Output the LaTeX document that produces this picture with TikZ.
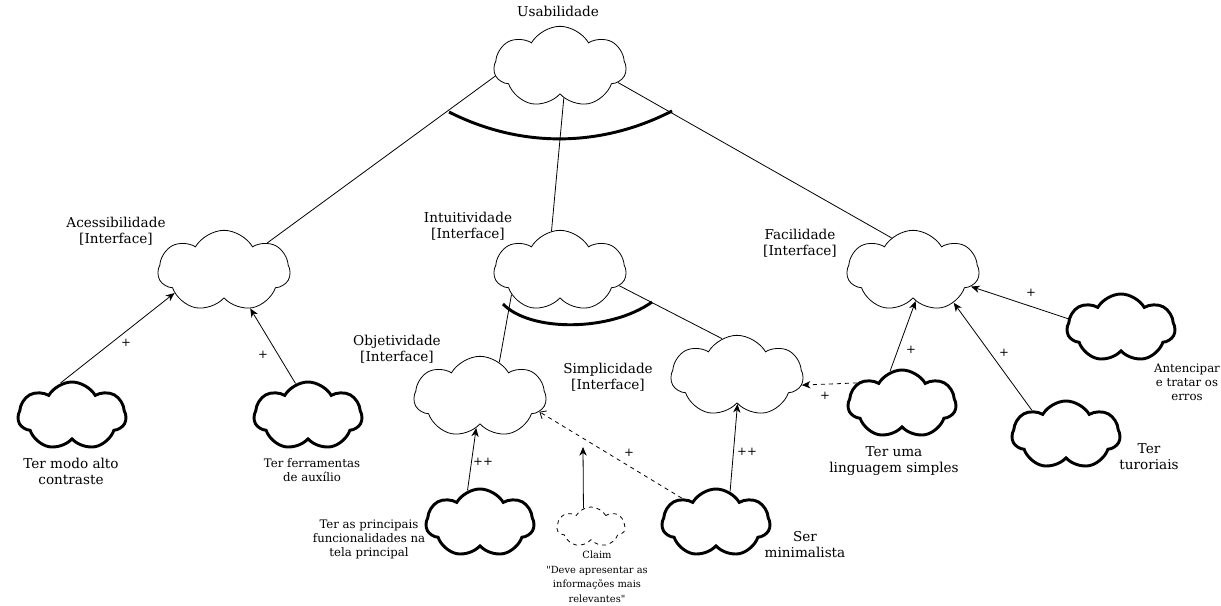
\documentclass[tikz,border=0pt]{standalone}
\usepackage{fontspec}
\setmainfont{DejaVu Serif}
\usetikzlibrary{shapes.symbols, arrows.meta}

\newcommand{\goalfont}{\fontsize{10.2}{12}\selectfont}
\newcommand{\opfont}{\fontsize{8.8}{10.5}\selectfont}
\newcommand{\claimfont}{\fontsize{7.4}{10.9}\selectfont}

\begin{document}
\begin{tikzpicture}[x=0.75pt, y=-0.75pt]
	\tikzstyle{softgoal} = [cloud, cloud puffs=7, cloud puff arc=120, aspect=1.6, 
	draw=black, line width=0.6pt, minimum width=99pt, minimum height=61pt, inner sep=0pt]
	\tikzstyle{operation} = [softgoal, line width=2.2pt, minimum width=81pt, 
	minimum height=51pt]
	\tikzstyle{claim} = [softgoal, dashed, line width=0.6pt, minimum width=51pt, 
	minimum height=30pt]
	\tikzstyle{txt} = [align=center, inner sep=0pt, font=\goalfont]
	\tikzstyle{small} = [align=center, inner sep=0pt, font=\opfont]
	\tikzstyle{sign} = [inner sep=0pt, font=\opfont]
	\tikzstyle{arrow} = [line width=0.6pt,->,>={Stealth[length=6.5pt, width=5.5pt, inset=2pt]}]
	\tikzstyle{andarc} = [line width=2.2pt]
	\useasboundingbox (0,0) rectangle (1221,606);
	% softgoals
	\node (usabilidade) [softgoal] at (560,67) {};
	\node (acessibilidade) [softgoal] at (224,271) {};
	\node (intuitividade) [softgoal] at (560,271) {};
	\node (facilidade) [softgoal] at (913,271) {};
	\node (objetividade) [softgoal] at (480,397) {};
	\node (simplicidade) [softgoal] at (737,376) {};
	% operationalizations
	\node (modoContraste) [operation] at (72,416) {};
	\node (ferramentas) [operation] at (308,416) {};
	\node (principais) [operation] at (480,523) {};
	\node (minimalista) [operation] at (716,523) {};
	\node (linguagem) [operation] at (902,404) {};
	\node (erros) [operation] at (1121,328) {};
	\node (tutoriais) [operation] at (1066,435) {};
	\node (relevantes) [claim] at (591,527) {};
	% texts
	\node (usabilidadeTxt) [txt] at (558,11) {Usabilidade};
	\node (acessibilidadeTxt) [txt] at (116,231) {Acessibilidade\\{[}Interface{]}};
	\node (intuitividadeTxt) [txt] at (468,226) {Intuitividade\\{[}Interface{]}};
	\node (facilidadeTxt) [txt] at (800,243) {Facilidade\\{[}Interface{]}};
	\node (objetividadeTxt) [txt] at (397,349) {Objetividade\\{[}Interface{]}};
	\node (simplicidadeTxt) [txt] at (608,377) {Simplicidade\\{[}Interface{]}};
	\node (modoContrasteTxt) [txt] at (71,471) {Ter modo alto\\contraste};
	\node (ferramentasTxt) [small] at (312,470) {Ter ferramentas\\de auxílio};
	\node (principaisTxt) [small] at (369,539) {Ter as principais\\funcionalidades na\\tela principal};
	\node (minimalistaTxt) [txt] at (805,545) {Ser\\minimalista};
	\node (linguagemTxt) [txt] at (894,461) {Ter uma\\linguagem simples};
	\node (errosTxt) [small] at (1187,382) {Antencipar\\e tratar os\\erros};
	\node (tutoriaisTxt) [txt] at (1149,457) {Ter\\turoriais};
	\node (relevantesTxt) [align=center, inner sep=0pt, font=\claimfont] at (597,577) 
	{Claim\\\textquotedbl Deve apresentar as\\informações mais\\relevantes\textquotedbl};
	% decompositions
	\draw [line width=0.6pt] (usabilidade.188) -- (acessibilidade.33);
	\draw [line width=0.6pt] (usabilidade.277) -- (intuitividade.102);
	\draw [line width=0.6pt] (usabilidade.345) -- (facilidade.123);
	\draw [line width=0.6pt] (intuitividade.206) -- (objetividade.61);
	\draw [line width=0.6pt] (intuitividade.346) -- (simplicidade.112);
	\draw [andarc] (449,112) .. controls (520,148) and (600,148) .. (672,111);
	\draw [andarc] (503,304) .. controls (530,332) and (610,332) .. (652,302);
	% contributions
	\draw [arrow] (modoContraste.109) -- (acessibilidade.204);
	\draw [arrow] (ferramentas.111) -- (acessibilidade.305);
	\draw [arrow] (principais.111) -- (objetividade.263);
	\draw [arrow] (minimalista.66) -- (simplicidade.271);
	\draw [line width=0.6pt, dashed, ->, >={Straight Barb[length=4pt, width=7pt]}] 
	(minimalista.144) -- (objetividade.346);
	\draw [arrow, dashed] (linguagem.155) -- (simplicidade.352);
	\draw [arrow] (linguagem.110) -- (facilidade.275);
	\draw [arrow] (tutoriais.144) -- (facilidade.322);
	\draw [arrow] (erros.170) -- (facilidade.345);
	\coordinate (claimTip) at (583,447);
	\draw [arrow] (relevantes.112) -- (claimTip);
	% signs
	\node (s1) [sign] at (126,343) {+};
	\node (s2) [sign] at (263,355) {+};
	\node (s3) [sign] at (483,462) {++};
	\node (s4) [sign] at (629,453) {+};
	\node (s5) [sign] at (747,452) {++};
	\node (s6) [sign] at (825,396) {+};
	\node (s7) [sign] at (911,350) {+};
	\node (s8) [sign] at (1004,353) {+};
	\node (s9) [sign] at (1031,293) {+};
\end{tikzpicture}
\end{document}
